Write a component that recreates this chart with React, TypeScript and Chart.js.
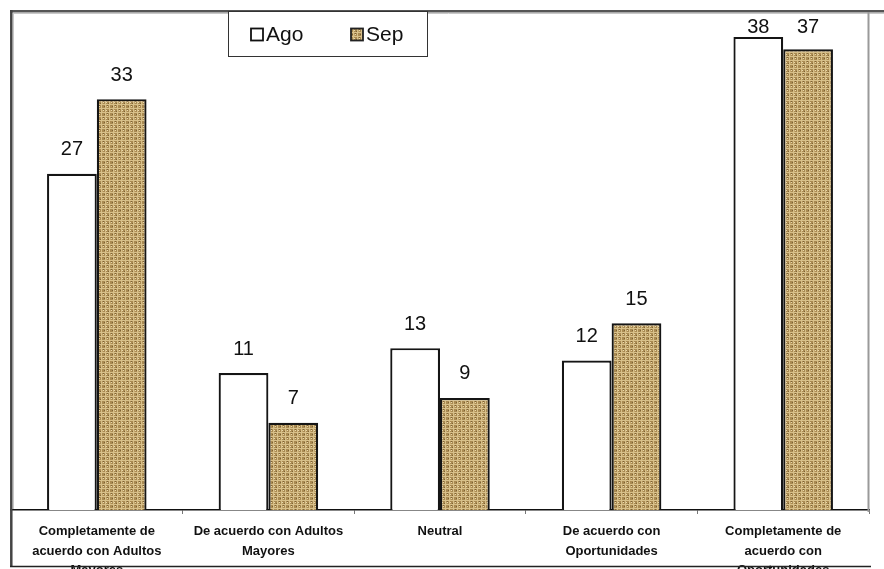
import React, { useEffect, useRef } from "react";
import { Chart, registerables } from "chart.js";

Chart.register(...registerables);

const categories: string[][] = [
  ["Completamente de", "acuerdo con Adultos", "Mayores"],
  ["De acuerdo con Adultos", "Mayores"],
  ["Neutral"],
  ["De acuerdo con", "Oportunidades"],
  ["Completamente de", "acuerdo con", "Oportunidades"],
];
const seriesNames = ["Ago", "Sep"];
const agoValues = [27, 11, 13, 12, 38];
const sepValues = [33, 7, 9, 15, 37];
const yMin = 0;
const yMax = 40;

function makeBurlap(): CanvasPattern | string {
  const c = document.createElement("canvas");
  c.width = 8;
  c.height = 8;
  const g = c.getContext("2d");
  if (!g) return "#b8975c";
  g.fillStyle = "#a98a52";
  g.fillRect(0, 0, 8, 8);
  g.fillStyle = "#d8c08a";
  g.fillRect(0, 0, 8, 1);
  g.fillRect(0, 4, 8, 1);
  g.fillRect(1, 0, 1, 8);
  g.fillRect(5, 0, 1, 8);
  g.fillStyle = "#ead9ad";
  g.fillRect(3, 2, 1, 1);
  g.fillRect(7, 6, 1, 1);
  g.fillRect(2, 6, 1, 1);
  g.fillStyle = "#7d6234";
  g.fillRect(3, 1, 1, 1);
  g.fillRect(7, 5, 1, 1);
  g.fillRect(0, 2, 1, 1);
  g.fillRect(4, 7, 1, 1);
  g.fillStyle = "#c2a56b";
  g.fillRect(2, 2, 1, 2);
  g.fillRect(6, 6, 1, 2);
  const p = g.createPattern(c, "repeat");
  return p || "#b8975c";
}

export default function App() {
  const ref = useRef<HTMLCanvasElement | null>(null);

  useEffect(() => {
    if (!ref.current) return;
    const burlap = makeBurlap();
    const FONT = "'Liberation Sans', Arial, sans-serif";

    const overlay = {
      id: "overlay",
      afterDatasetsDraw(chart: any) {
        const ctx = chart.ctx;
        ctx.save();
        ctx.fillStyle = "#111";
        ctx.font = `20px ${FONT}`;
        ctx.textAlign = "center";
        ctx.textBaseline = "middle";
        chart.data.datasets.forEach((ds: any, di: number) => {
          const meta = chart.getDatasetMeta(di);
          meta.data.forEach((el: any, i: number) => {
            const y = Math.max(el.y - 24, 27);
            ctx.fillText(String(ds.data[i]), el.x, y);
          });
        });
        ctx.restore();
      },
      afterDraw(chart: any) {
        const ctx = chart.ctx;
        ctx.save();
        // frame
        ctx.strokeStyle = "#c8c8c8";
        ctx.lineWidth = 1;
        ctx.beginPath();
        ctx.moveTo(13, 13.5);
        ctx.lineTo(884, 13.5);
        ctx.moveTo(13.5, 13);
        ctx.lineTo(13.5, 509);
        ctx.stroke();

        ctx.strokeStyle = "#555";
        ctx.lineWidth = 2.5;
        ctx.beginPath();
        ctx.moveTo(10, 11.3);
        ctx.lineTo(884, 11.3);
        ctx.stroke();

        ctx.strokeStyle = "#444";
        ctx.lineWidth = 2.5;
        ctx.beginPath();
        ctx.moveTo(11.3, 10);
        ctx.lineTo(11.3, 567);
        ctx.stroke();

        ctx.strokeStyle = "#9a9a9a";
        ctx.lineWidth = 2;
        ctx.beginPath();
        ctx.moveTo(868.5, 12);
        ctx.lineTo(868.5, 512);
        ctx.stroke();

        ctx.strokeStyle = "#222";
        ctx.lineWidth = 1.5;
        ctx.beginPath();
        ctx.moveTo(10, 566.5);
        ctx.lineTo(871, 566.5);
        ctx.stroke();

        // legend
        ctx.fillStyle = "#fff";
        ctx.fillRect(228, 12, 200, 45);
        ctx.strokeStyle = "#333";
        ctx.lineWidth = 1;
        ctx.strokeRect(228.5, 11.5, 199, 45);

        ctx.fillStyle = "#fff";
        ctx.fillRect(251, 28.5, 12, 12);
        ctx.strokeStyle = "#111";
        ctx.lineWidth = 1.8;
        ctx.strokeRect(251, 28.5, 12, 12);

        ctx.fillStyle = burlap as any;
        ctx.fillRect(351, 28.5, 12, 12);
        ctx.strokeStyle = "#222";
        ctx.strokeRect(351, 28.5, 12, 12);

        ctx.fillStyle = "#111";
        ctx.font = `21px ${FONT}`;
        ctx.textAlign = "left";
        ctx.textBaseline = "middle";
        ctx.fillText(seriesNames[0], 266, 35);
        ctx.fillText(seriesNames[1], 366, 35);
        ctx.restore();
      },
    };

    const chart = new Chart(ref.current, {
      type: "bar",
      data: {
        labels: categories,
        datasets: [
          {
            label: seriesNames[0],
            data: agoValues,
            backgroundColor: "#ffffff",
            borderColor: "#151515",
            borderWidth: 2.2,
            barPercentage: 1,
            categoryPercentage: 0.58,
          },
          {
            label: seriesNames[1],
            data: sepValues,
            backgroundColor: burlap as any,
            borderColor: "#151515",
            borderWidth: 2.2,
            barPercentage: 1,
            categoryPercentage: 0.58,
          },
        ],
      },
      options: {
        animation: false,
        responsive: false,
        devicePixelRatio: 1,
        layout: { padding: { left: 11, right: 15, top: 12, bottom: 0 } },
        plugins: {
          legend: { display: false },
          tooltip: { enabled: false },
          title: { display: false },
        },
        scales: {
          y: { display: false, min: yMin, max: yMax },
          x: {
            grid: {
              offset: true,
              drawOnChartArea: false,
              drawTicks: true,
              tickLength: 4,
              color: "#777",
            },
            border: { display: true, color: "#111", width: 1.5 },
            ticks: {
              color: "#111",
              padding: 8,
              maxRotation: 0,
              autoSkip: false,
              font: { family: FONT, size: 13, weight: "bold", lineHeight: 1.5 },
            },
            afterFit(scale: any) {
              scale.height = 59;
            },
          },
        },
      },
      plugins: [overlay],
    } as any);

    return () => chart.destroy();
  }, []);

  return (
    <div style={{ position: "absolute", left: 0, top: 0, width: 884, height: 569, background: "#fff", overflow: "hidden" }}>
      <canvas ref={ref} width={884} height={569} style={{ display: "block", width: 884, height: 569 }} />
    </div>
  );
}
